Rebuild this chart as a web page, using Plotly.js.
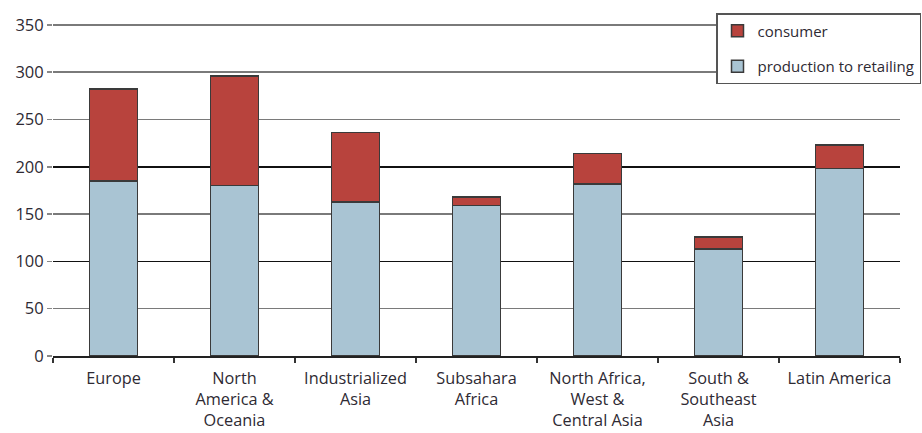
<!DOCTYPE html>
<html>
<head>
<meta charset="utf-8">
<script src="https://cdn.plot.ly/plotly-3.0.1.min.js"></script>
<style>html,body{margin:0;padding:0;background:#fff;}#chart{width:922px;height:433px;}</style>
</head>
<body>
<div id="chart"></div>
<script>
const regions = ["Europe", "North<br>America &<br>Oceania", "Industrialized<br>Asia", "Subsahara<br>Africa", "North Africa,<br>West &<br>Central Asia", "South &<br>Southeast<br>Asia", "Latin America"];
const productionToRetailing = [185, 180, 163, 159, 182, 113, 198];
const consumer = [97, 116, 73, 9, 32, 13, 25];
const yTicks = [0, 50, 100, 150, 200, 250, 300, 350];
const darkGrid = [100, 200];

const fam = "Open Sans, DejaVu Sans, sans-serif";
const txt = "#2e2a33";

const traces = [
  {type: "bar", name: "production to retailing", x: regions, y: productionToRetailing, legendrank: 2,
   legendgroup: "p", marker: {color: "#a9c4d3", line: {color: "#3a3a3a", width: 1.5}}, hoverinfo: "y"},
  {type: "bar", name: "consumer", x: regions, y: consumer, legendrank: 1,
   legendgroup: "c", marker: {color: "#b8433d", line: {color: "#3a3a3a", width: 1.5}}, hoverinfo: "y"},
  {type: "scatter", x: regions, y: darkGrid.map(() => null), yaxis: "y2", showlegend: false, hoverinfo: "skip"}
];

const layout = {
  width: 922, height: 433,
  margin: {l: 53, r: 22, t: 22, b: 77, autoexpand: false},
  paper_bgcolor: "#fff", plot_bgcolor: "#fff",
  font: {family: fam, size: 16, color: txt},
  barmode: "stack",
  bargap: 0.6,
  xaxis: {
    type: "category", tickson: "boundaries", ticks: "outside", ticklen: 5, tickcolor: "#333", tickwidth: 1.5,
    showline: true, linecolor: "#222", linewidth: 1.5, showgrid: false, fixedrange: true,
    ticklabelstandoff: 7,
    tickfont: {family: fam, size: 16.3, color: txt}
  },
  yaxis: {
    range: [0, 353], tickvals: yTicks, ticks: "outside", ticklen: 5, tickcolor: "#888", tickwidth: 1.5,
    showgrid: true, gridcolor: "#7a7a7a", gridwidth: 1.6, showline: false, zeroline: false,
    tickfont: {family: fam, size: 16.5, color: txt}, fixedrange: true
  },
  yaxis2: {
    overlaying: "y", range: [0, 353], tickvals: darkGrid, showticklabels: false, ticks: "",
    showgrid: true, gridcolor: "#111", gridwidth: 1.5, zeroline: false, fixedrange: true
  },
  legend: {
    x: (716 - 53) / 847, xanchor: "left", y: (355 - 12) / 334, yanchor: "top",
    bordercolor: "#555", borderwidth: 1.5, bgcolor: "#fff",
    traceorder: "grouped", tracegroupgap: 13,
    font: {family: fam, size: 15, color: txt}
  },
  showlegend: true
};

Plotly.newPlot("chart", traces, layout, {displayModeBar: false, staticPlot: true});
</script>
</body>
</html>
